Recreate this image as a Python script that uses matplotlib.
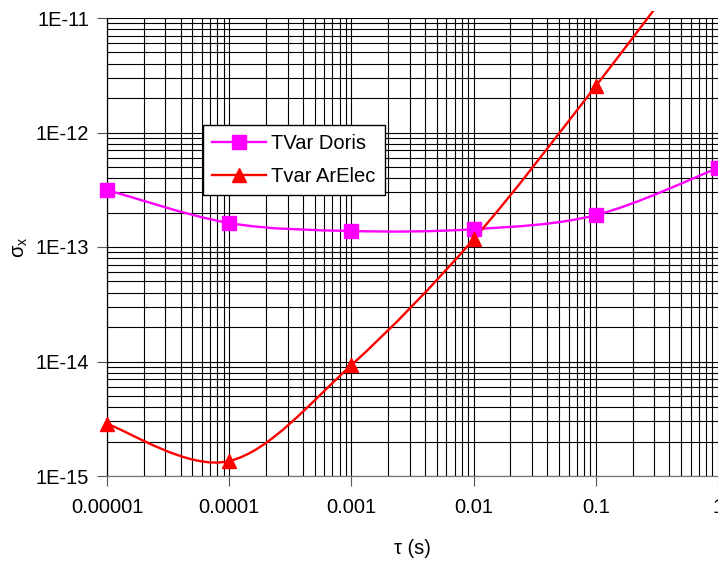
import numpy as np
import matplotlib
matplotlib.use("Agg")
import matplotlib.pyplot as plt
from matplotlib.path import Path
from matplotlib.patches import PathPatch, Rectangle
from matplotlib.ticker import LogLocator, FixedLocator, NullFormatter

plt.rcParams['font.family'] = ['Liberation Sans', 'DejaVu Sans']

tau = [1e-5, 1e-4, 1e-3, 1e-2, 1e-1, 1.0]
doris = [3.15e-13, 1.62e-13, 1.38e-13, 1.43e-13, 1.9e-13, 4.9e-13]
arelec = [2.85e-15, 1.35e-15, 9.3e-15, 1.17e-13, 2.55e-12, 6.5e-11]
xtick_labels = ["0.00001", "0.0001", "0.001", "0.01", "0.1", "1"]
ytick_vals = [1e-15, 1e-14, 1e-13, 1e-12, 1e-11]
ytick_labels = ["1E-15", "1E-14", "1E-13", "1E-12", "1E-11"]


def smooth_path(xs, ys):
    lx = np.log10(xs)
    ly = np.log10(ys)
    P = np.column_stack([lx, ly])
    n = len(P)
    verts = [P[0]]
    codes = [Path.MOVETO]
    for i in range(n - 1):
        p_prev = P[i - 1] if i > 0 else P[i]
        p_next2 = P[i + 2] if i + 2 < n else P[i + 1]
        c1 = P[i] + (P[i + 1] - p_prev) / 6.0
        c2 = P[i + 1] - (p_next2 - P[i]) / 6.0
        verts += [c1, c2, P[i + 1]]
        codes += [Path.CURVE4] * 3
    verts = 10 ** np.array(verts)
    return Path(verts, codes)


fig = plt.figure(figsize=(7.18, 5.61), dpi=100)
ax = fig.add_axes([107 / 718, 1 - 476 / 561, 611 / 718, 458 / 561])
ax.set_xscale('log')
ax.set_yscale('log')
ax.set_xlim(1e-5, 1)
ax.set_ylim(1e-15, 1e-11)

ax.xaxis.set_major_locator(FixedLocator(tau))
ax.set_xticklabels(xtick_labels)
ax.yaxis.set_major_locator(FixedLocator(ytick_vals))
ax.set_yticklabels(ytick_labels)
ax.xaxis.set_minor_locator(LogLocator(base=10, subs=np.arange(2, 10), numticks=20))
ax.yaxis.set_minor_locator(LogLocator(base=10, subs=np.arange(2, 10), numticks=20))
ax.xaxis.set_minor_formatter(NullFormatter())
ax.yaxis.set_minor_formatter(NullFormatter())
ax.tick_params(which='minor', length=0)
ax.tick_params(which='major', length=7, width=0.8, color='#555555', labelsize=14.5, pad=6)
ax.tick_params(axis='x', pad=9)
ax.grid(True, which='both', color='black', linewidth=0.8)
ax.set_axisbelow(True)
for s in ['top', 'right']:
    ax.spines[s].set_visible(False)
ax.spines['left'].set_color('black')
ax.spines['bottom'].set_color('#777777')
ax.spines['left'].set_linewidth(0.9)
ax.spines['bottom'].set_linewidth(0.9)

clip_rect = Rectangle((0, 0), 1, 1 - 11 / 561, transform=fig.transFigure)

for ys, color, marker, label in [(doris, '#FF00FF', 's', 'TVar Doris'),
                                 (arelec, '#FF0000', '^', 'Tvar ArElec')]:
    pp = PathPatch(smooth_path(tau, ys), facecolor='none', edgecolor=color,
                   linewidth=1.7, zorder=3)
    ax.add_patch(pp)
    pp.set_clip_path(clip_rect)
    ax.plot(tau, ys, linestyle='none', marker=marker, color=color,
            markersize=10, clip_on=False, zorder=4)
    ax.plot([], [], color=color, linewidth=1.7, marker=marker, markersize=10,
            label=label)

leg = ax.legend(loc='upper left', bbox_to_anchor=(96 / 611, 351 / 458),
                fontsize=14.5, frameon=True, fancybox=False, edgecolor='black',
                framealpha=1, handlelength=2.7, borderpad=0.45, labelspacing=0.7,
                handletextpad=0.25, borderaxespad=0)
leg.get_frame().set_linewidth(1.0)

ax.set_xlabel('τ (s)', fontsize=14.5, labelpad=16)
ax.set_ylabel('σ$_\\mathregular{x}$', fontsize=14.5, labelpad=4)

fig.savefig('out.png', dpi=100)
